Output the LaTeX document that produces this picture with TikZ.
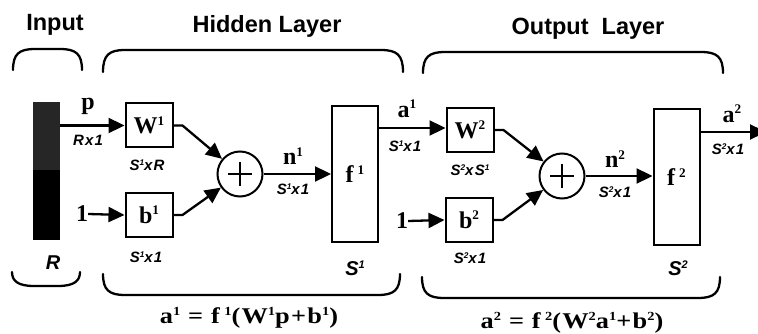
\documentclass[tikz,border=0pt]{standalone}
\usepackage{fontspec}
\usepackage{graphicx}
\setmainfont{Liberation Serif}
\setsansfont{Liberation Sans}
\usetikzlibrary{arrows.meta}
\newcommand\su[1]{\raisebox{.36em}{\scalebox{.55}{#1}}}
\newcommand\topbr[4]{\draw[brace] (#1,#3) .. controls (#1,#4+5) and (#1+6,#4) .. (#1+22,#4) -- (#2-22,#4) .. controls (#2-6,#4) and (#2,#4+5) .. (#2,#3);}
\newcommand\botbr[4]{\draw[brace] (#1,#3) .. controls (#1,#4-5) and (#1+6,#4) .. (#1+22,#4) -- (#2-22,#4) .. controls (#2-6,#4) and (#2,#4-5) .. (#2,#3);}
\begin{document}
\begin{tikzpicture}[x=1pt,y=-1pt,
  box/.style={draw, line width=2pt, minimum width=47pt, minimum height=44pt, inner sep=0pt, font=\fontsize{24}{26}\selectfont\bfseries},
  fbox/.style={draw, line width=2pt, minimum width=46pt, minimum height=136pt, inner sep=0pt, font=\fontsize{24}{26}\selectfont\bfseries},
  sumc/.style={draw, circle, line width=2pt, minimum size=45pt, inner sep=0pt},
  arr/.style={line width=2.3pt, -{Triangle[length=16pt,width=15pt]}},
  brace/.style={line width=2.3pt, line cap=round},
  ttl/.style={font=\fontsize{23.5}{25}\selectfont\sffamily\bfseries},
  mlab/.style={font=\fontsize{24}{26}\selectfont\bfseries, inner sep=0pt},
  dim/.style={font=\fontsize{15}{16}\selectfont\sffamily\bfseries\itshape\addfontfeature{LetterSpace=8}, inner sep=0pt},
  siz/.style={font=\fontsize{20}{22}\selectfont\sffamily\bfseries\itshape, inner sep=0pt},
  eqn/.style={font=\fontsize{22.5}{25}\selectfont\bfseries\addfontfeature{LetterSpace=5}, inner sep=0pt}]
\useasboundingbox (0,0) rectangle (758,334);
% titles
\node[ttl] (tin) at (55,25) {Input};
\node[ttl] (thid) at (267,26) {Hidden Layer};
\node[ttl] (tout) at (588,29) {Output\ \ Layer};
% braces
\topbr{13}{82}{70}{49}
\topbr{103}{403}{72}{50}
\topbr{423}{723}{73}{52}
\botbr{12}{80}{272}{286}
\botbr{103}{400}{274}{295}
\botbr{422}{720}{277}{298}
% input bar
\node[fill=black, minimum width=27pt, minimum height=138pt, inner sep=0pt] (bar) at (46.5,171) {};
\fill[black!85] (bar.north west) rectangle (bar.east |- 0,170);
\node[siz] (R) at (53,263) {R};
% layer 1
\node[box] (W1) at (149,125.5) {W\su{1}};
\node[box] (b1) at (149,215) {b\su{1}};
\node[sumc] (s1) at (240,174) {};
\draw[line width=2.6pt] ([xshift=-12pt]s1.center) -- ([xshift=12pt]s1.center)
  ([yshift=-12pt]s1.center) -- ([yshift=12pt]s1.center);
\node[fbox] (f1) at (355,174) {f\,\su{1}};
\node[mlab] (one1) at (82,214) {1};
\draw[arr] (bar.east |- W1.west) -- (W1.west);
\draw[arr] (one1.east) -- (b1.west);
\draw[arr] (W1.east) -- ++(9,0) -- (s1);
\draw[arr] (b1.east) -- ++(9,0) -- (s1);
\draw[arr] (s1.east) -- (f1.west |- s1.east);
\node[mlab] (p) at (88,106) {p};
\node[dim] (d1) at (88,140) {Rx1};
\node[dim] (d2) at (147,165) {S\su{1}xR};
\node[dim] (d3) at (146,257) {S\su{1}x1};
\node[mlab] (n1) at (293,156) {n\su{1}};
\node[dim] (d4) at (293,189) {S\su{1}x1};
\node[siz] (S1) at (355,268) {S\su{1}};
% layer 2
\node[box] (W2) at (470,130) {W\su{2}};
\node[box] (b2) at (469,220) {b\su{2}};
\node[sumc] (s2) at (562,176) {};
\draw[line width=2.6pt] ([xshift=-12pt]s2.center) -- ([xshift=12pt]s2.center)
  ([yshift=-12pt]s2.center) -- ([yshift=12pt]s2.center);
\node[fbox] (f2) at (676.5,177) {f\,\su{2}};
\node[mlab] (one2) at (402,221) {1};
\coordinate (aout) at (766,132);
\draw[arr] (f1.east |- 0,128) -- (W2.west |- 0,128);
\draw[arr] (one2.east) -- (b2.west);
\draw[arr] (W2.east) -- ++(9,0) -- (s2);
\draw[arr] (b2.east) -- ++(9,0) -- (s2);
\draw[arr] (s2.east) -- (f2.west |- s2.east);
\draw[arr] (f2.east |- aout) -- (aout);
\node[mlab] (a1) at (407,109) {a\su{1}};
\node[dim] (d5) at (405,146) {S\su{1}x1};
\node[dim] (d6) at (470,170) {S\su{2}xS\su{1}};
\node[dim] (d7) at (470,258) {S\su{2}x1};
\node[mlab] (n2) at (615,159) {n\su{2}};
\node[dim] (d8) at (615,192) {S\su{2}x1};
\node[siz] (S2) at (678,268) {S\su{2}};
\node[mlab] (a2) at (732,114) {a\su{2}};
\node[dim] (d9) at (728,149) {S\su{2}x1};
% equations
\node[eqn] (eq1) at (249,318) {\scalebox{1.17}[1]{a\su{1}\ =\ f\,\su{1}(W\su{1}p+b\su{1})}};
\node[eqn] (eq2) at (572,323) {\scalebox{1.17}[1]{a\su{2}\ =\ f\,\su{2}(W\su{2}a\su{1}+b\su{2})}};
\end{tikzpicture}
\end{document}
